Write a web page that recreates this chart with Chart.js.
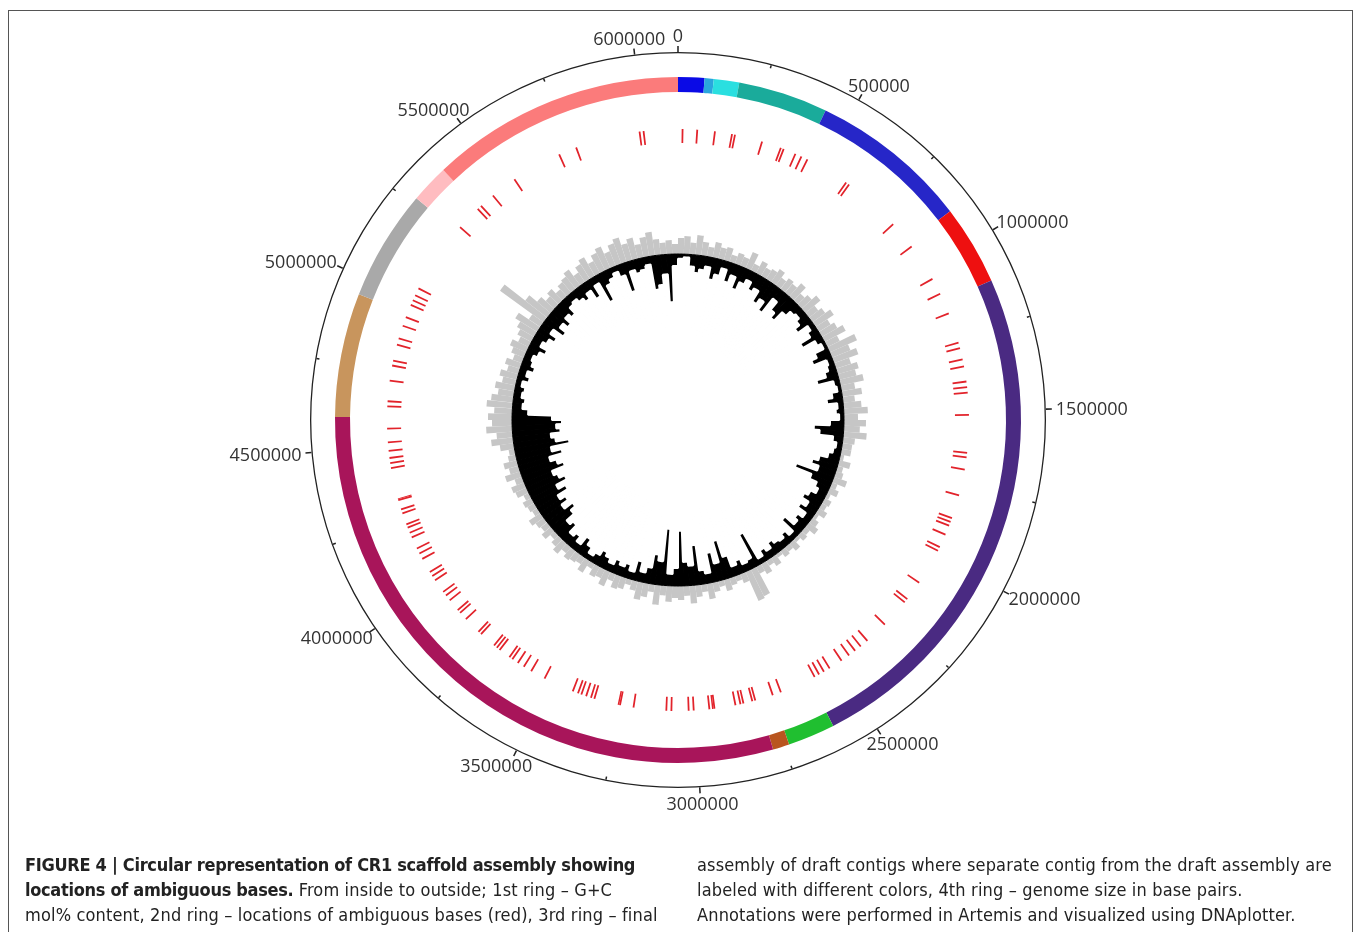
<!DOCTYPE html>
<html>
<head>
<meta charset="utf-8">
<script src="https://cdn.jsdelivr.net/npm/chart.js@4.4.1/dist/chart.umd.min.js"></script>
<style>
  body { margin: 0; background: #fff; width: 1355px; height: 932px; overflow: hidden; position: relative; }
  canvas { position: absolute; left: 0; top: 0; }
  .frame { position: absolute; left: 8px; top: 10px; width: 1343px; height: 960px; border: 1px solid #555; }
  .caption { position: absolute; top: 852px; font-family: "DejaVu Sans Condensed", sans-serif;
             font-size: 18px; line-height: 25px; color: #222; white-space: nowrap; letter-spacing: 0.15px; }
  .caption b { letter-spacing: -0.3px; }
</style>
</head>
<body>
<canvas id="gcChart" width="1355" height="932"></canvas>
<canvas id="ringChart" width="1355" height="932"></canvas>
<div class="frame"></div>
<div class="caption" style="left:25px">
  <b>FIGURE 4 | Circular representation of CR1 scaffold assembly showing</b><br>
  <b>locations of ambiguous bases.</b> From inside to outside; 1st ring – G+C<br>
  mol% content, 2nd ring – locations of ambiguous bases (red), 3rd ring – final
</div>
<div class="caption" style="left:697px">
  assembly of draft contigs where separate contig from the draft assembly are<br>
  labeled with different colors, 4th ring – genome size in base pairs.<br>
  Annotations were performed in Artemis and visualized using DNAplotter.
</div>
<script>
var genomeSize = 6115000;

// 4th ring: scale in base pairs
var majorTicks = [0, 500000, 1000000, 1500000, 2000000, 2500000, 3000000,
                  3500000, 4000000, 4500000, 5000000, 5500000, 6000000];
var tickLabels = ['0', '500000', '1000000', '1500000', '2000000', '2500000', '3000000',
                  '3500000', '4000000', '4500000', '5000000', '5500000', '6000000'];
var minorTicks = [250000, 750000, 1250000, 1750000, 2250000, 2750000,
                  3250000, 3750000, 4250000, 4750000, 5250000, 5750000];

// 3rd ring: draft contigs (bp), in order from position 0
var contigLengths = [75600, 26300, 73100, 258000, 458800, 229200, 1479600,
                     135900, 47500, 1810800, 356700, 319300, 110400, 733800];
var contigColors = ['#0a0ae6', '#2aa6dd', '#2adfe0', '#1aab9b', '#2626c8', '#ee1010', '#4a2a82',
                    '#20bf30', '#b9551f', '#a8155a', '#c8955d', '#a9a9a9', '#ffbcc0', '#fb7b7b'];

// 2nd ring: ambiguous base positions (bp)
var ambiguousSites = [15300, 64500, 124000, 181800, 191900, 285400, 351600, 361800, 404300, 426400,
  448400, 599600, 611500, 810200, 907100, 1036100, 1092200, 1163500, 1267200, 1285800,
  1324900, 1348700, 1399600, 1418300, 1437000, 1511800, 1639100, 1654400, 1695200, 1783500,
  1863400, 1877000, 1890500, 1922800, 1968700, 1982300, 2106300, 2174200, 2187800, 2288000,
  2367900, 2396700, 2420500, 2446000, 2476600, 2524200, 2546200, 2564900, 2581900, 2705900,
  2734700, 2795900, 2806100, 2836700, 2846900, 2863900, 2935200, 2940300, 2952200, 3004900,
  3021800, 3079600, 3096600, 3207000, 3252800, 3257900, 3341200, 3353000, 3370000, 3387000,
  3398900, 3417600, 3521200, 3572200, 3601000, 3624800, 3646900, 3658800, 3699600, 3711500,
  3723400, 3781100, 3793000, 3852400, 3881300, 3893200, 3935700, 3956000, 3971300, 4018900,
  4035900, 4051200, 4102100, 4122500, 4141200, 4182000, 4199000, 4217600, 4229500, 4268600,
  4282200, 4314400, 4317800, 4424900, 4441800, 4458800, 4482600, 4511500, 4557300, 4632100,
  4649000, 4718700, 4769600, 4786600, 4841000, 4863000, 4907200, 4937800, 4981900, 4998900,
  5017600, 5043100, 5291100, 5376100, 5391300, 5444000, 5534000, 5705600, 5766800, 5986000, 5999500];

// 1st ring: G+C deviation per window (180 windows), above and below the mean
var gcAbove = [4, 4.5, 3, 5, 3.5, 2.5, 4, 3, 3.5, 2,
  3, 2.5, 4.5, 2, 3.5, 2.5, 3, 4, 2.5, 3.5,
  3, 4.5, 2.5, 3.5, 5, 3, 4, 5.5, 3.5, 4.5,
  6, 3.5, 7.5, 5, 6.5, 4, 5.5, 4.5, 6, 3.5,
  5, 3, 4.5, 6, 3.5, 5.5, 4, 5.8, 3, 2.5,
  2.5, 1, 3, 1.5, 2, 3.5, 1.5, 2.5, 1, 2,
  1.5, 2.5, 1, 2, 3, 1.5, 2, 1, 2.5, 1.5,
  2, 1, 2.5, 1.5, 3, 2, 7.5, 8, 2.5, 1.5,
  2, 3, 1.5, 2.5, 4, 2, 3, 4.5, 2.5, 3.5,
  3, 4, 2.5, 5, 2, 3.5, 4.5, 2.5, 1.5, 3,
  3.5, 2, 4, 2.5, 3, 1.5, 3.5, 2, 2.5, 3,
  2, 3.5, 2.5, 1.5, 3, 2, 2.5, 3.5, 1.5, 2,
  2.5, 1.5, 3, 3.5, 2, 4, 2.5, 3.5, 2, 1.5,
  3.5, 5.5, 4, 6.5, 5, 6, 4.5, 6.5, 5.5, 4,
  5, 3.5, 4.5, 3, 4, 2.5, 3.5, 4.5, 3, 4,
  5, 6.5, 3.5, 13.5, 7, 4.5, 3, 4, 2.5, 3.5,
  4, 5, 3, 4.5, 5.5, 3.5, 5, 6, 4, 5.5,
  6.5, 4.5, 5.5, 3.5, 5, 6, 4, 3, 3.5, 2.5];
var gcBelow = [1.2, 0.8, 3, 4.5, 3.5, 2.5, 5.5, 4, 2, 5,
  3, 6, 3.8, 2.5, 4.5, 3.5, 6.5, 5, 7.5, 3,
  5.5, 7, 4, 2.5, 2, 3, 4.5, 1.5, 2.5, 5.5,
  2, 1, 3.5, 5, 1.5, 2, 3, 5.5, 1.5, 1,
  2.5, 4, 1.5, 2, 1.2, 3.5, 7.5, 6, 2.5, 1.5,
  2, 3, 5, 6.5, 4.5, 10, 5.5, 3.5, 2.5, 4,
  5, 3, 4.5, 2, 3.5, 2.5, 5.5, 1.5, 3, 2,
  2.5, 3.5, 2, 3, 1.5, 9, 2.5, 2, 3.5, 2.5,
  5.5, 10, 4.5, 7.5, 2.5, 3.5, 10, 5, 6, 13.8,
  4.5, 3, 14.2, 6, 7.5, 4, 2.5, 5, 2, 3.5,
  2.5, 3.5, 2, 3, 4, 2.5, 1.5, 3, 4.5, 2,
  3.5, 2.5, 5, 4, 6.5, 8, 5.5, 7.5, 6, 9,
  7, 10, 8.5, 7.5, 11, 9.5, 8, 11.5, 9, 13.8,
  10.5, 9.5, 12, 11, 12.5, 10, 4, 2.5, 3, 2,
  2.5, 1.5, 3, 2, 3.5, 2.5, 2, 3, 4.5, 2.5,
  3.5, 5, 3, 6, 4, 5.5, 3.5, 4.5, 2.5, 2,
  3, 4, 2.5, 5, 2, 7.5, 3.5, 2.5, 1.5, 3,
  7.5, 2.5, 3.5, 3, 2, 8.5, 7.5, 5, 12, 3];

var clear = 'rgba(0,0,0,0)';
// same square chart area (748px) centred on the plot for both canvases
var plotPadding = { left: 304, right: 303, top: 46, bottom: 138 };

// turn a list of positions into doughnut segments: gaps are transparent, marks coloured
function markRing(positions, width, color) {
  var data = [], colors = [], idx = [], cursor = 0;
  positions.forEach(function (p) {
    if (p > cursor) { data.push(p - cursor); colors.push(clear); cursor = p; }
    var w = p + width - cursor;
    if (w > 0) { idx.push(data.length); data.push(w); colors.push(color); cursor += w; }
  });
  data.push(genomeSize - cursor); colors.push(clear);
  return { data: data, backgroundColor: colors, rotation: -width / 2 / genomeSize * 360, markIndex: idx };
}

function spacer(w) {
  return { data: [1], backgroundColor: clear, weight: w };
}

var major = markRing(majorTicks, 4000, '#222');
var minor = markRing(minorTicks, 4000, '#222');
var ambiguous = markRing(ambiguousSites, 6000, '#e2232b');

var tickLabelPlugin = {
  id: 'tickLabels',
  afterDatasetsDraw: function (chart) {
    var ctx = chart.ctx;
    var arcs = chart.getDatasetMeta(0).data;
    ctx.save();
    ctx.font = '18px "Open Sans"';
    ctx.fillStyle = '#333';
    ctx.textBaseline = 'alphabetic';
    major.markIndex.forEach(function (di, i) {
      var a = arcs[di];
      var mid = (a.startAngle + a.endAngle) / 2;
      var r = a.outerRadius + 4;
      var ux = Math.cos(mid), uy = Math.sin(mid);
      var px = a.x + r * ux, py = a.y + r * uy;
      var w = ctx.measureText(tickLabels[i]).width, h = 13;
      ctx.fillText(tickLabels[i], px - w * (1 - ux) / 2, py - h * (1 - uy) / 2 + h);
    });
    ctx.restore();
  }
};

new Chart(document.getElementById('ringChart'), {
  type: 'doughnut',
  data: {
    datasets: [
      { data: major.data, backgroundColor: major.backgroundColor, rotation: major.rotation, weight: 6 },
      { data: [genomeSize], backgroundColor: '#222', weight: 1.3 },
      { data: minor.data, backgroundColor: minor.backgroundColor, rotation: minor.rotation, weight: 3 },
      spacer(20.7),
      { data: contigLengths, backgroundColor: contigColors, weight: 15 },
      spacer(37),
      { data: ambiguous.data, backgroundColor: ambiguous.backgroundColor, rotation: ambiguous.rotation, weight: 14 }
    ]
  },
  options: {
    responsive: false,
    animation: false,
    cutout: 277,
    layout: { padding: plotPadding },
    elements: { arc: { borderWidth: 0 } },
    plugins: { legend: { display: false }, tooltip: { enabled: false } }
  },
  plugins: [tickLabelPlugin]
});

// G+C plot: grey above the mean drawn outward, black below the mean drawn inward
var gcBaseRadius = 166, gcPxPerUnit = 4, gcOuterRadius = 374;
new Chart(document.getElementById('gcChart'), {
  type: 'polarArea',
  data: {
    labels: gcAbove.map(function (v, i) { return String(i * 2); }),
    datasets: [
      { data: gcBelow.map(function (v) { return -v; }), backgroundColor: '#fff', borderColor: '#fff', borderWidth: 2 },
      { data: gcBelow.map(function () { return 0; }), backgroundColor: '#000', borderColor: '#000', borderWidth: 1 },
      { data: gcAbove, backgroundColor: '#c6c6c6', borderWidth: 0 }
    ]
  },
  options: {
    responsive: false,
    animation: false,
    layout: { padding: plotPadding },
    plugins: { legend: { display: false }, tooltip: { enabled: false } },
    scales: {
      r: {
        display: false,
        min: -gcBaseRadius / gcPxPerUnit,
        max: (gcOuterRadius - gcBaseRadius) / gcPxPerUnit
      }
    }
  }
});
</script>
</body>
</html>
